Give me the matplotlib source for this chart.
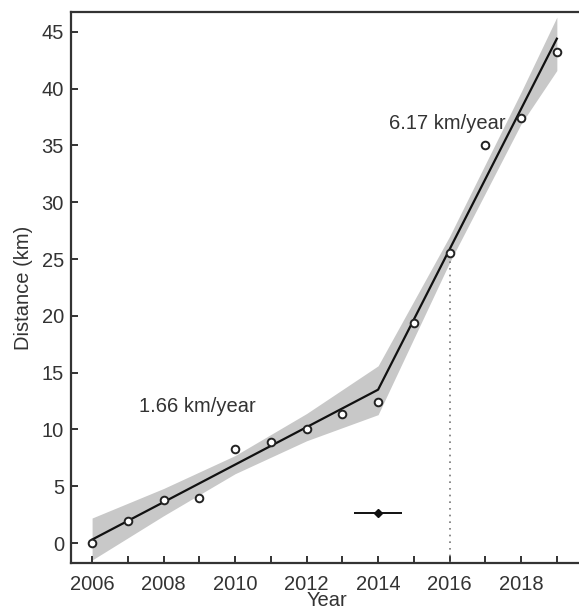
import matplotlib
matplotlib.use("Agg")
import matplotlib.pyplot as plt

plt.rcParams['font.family'] = ['Liberation Sans', 'DejaVu Sans']

years = [2006, 2007, 2008, 2009, 2010, 2011, 2012, 2013, 2014, 2015, 2016, 2017, 2018, 2019]
distance = [0.0, 1.9, 3.8, 4.0, 8.3, 8.9, 10.0, 11.4, 12.4, 19.4, 25.5, 35.0, 37.4, 43.2]

fit_x = [2006, 2014, 2019]
fit_y = [0.3, 13.5, 44.4]

band_x = [2006, 2008, 2010, 2012, 2014, 2016, 2018, 2019]
band_lo = [-1.5, 2.4, 6.1, 9.0, 11.3, 24.7, 36.9, 41.6]
band_hi = [2.2, 4.8, 7.7, 11.4, 15.6, 27.0, 39.7, 46.3]

event_x = 2014
event_y = 2.6
event_xerr = 0.68

rate_labels = ["1.66 km/year", "6.17 km/year"]
rate_pos = [(2007.3, 12.0), (2014.3, 36.9)]

vline_x = 2016
vline_top = 25.5

fig = plt.figure(figsize=(5.79, 6.08), dpi=100)
ax = fig.add_axes([71/579, 45/608, (592.6-71)/579, (563-12)/608])
ax.set_xlim(2005.41, 2020.0)
ax.set_ylim(-1.76, 46.75)

tc = '#333333'
fs = 14.5
ax.fill_between(band_x, band_lo, band_hi, color='#c8c8c8', lw=0, zorder=1)
ax.plot(fit_x, fit_y, color='#111111', lw=1.6, zorder=3)
ax.plot(years, distance, 'o', mfc='white', mec='#222222', mew=1.4, ms=5.5, zorder=4)
ax.plot([vline_x, vline_x], [ax.get_ylim()[0], vline_top], ls=(0, (1, 3)), color='#777777', lw=1.2, zorder=2)
ax.errorbar([event_x], [event_y], xerr=[event_xerr], fmt='D', color='#111111', ms=4, lw=1.4, capsize=0, zorder=5)

for t, (x, y) in zip(rate_labels, rate_pos):
    ax.text(x, y, t, fontsize=fs, color=tc, ha='left', va='center')

ax.set_xticks(range(2006, 2020))
ax.set_xticklabels([str(y) if y % 2 == 0 else '' for y in range(2006, 2020)])
ax.set_yticks(range(0, 50, 5))
ax.tick_params(direction='in', length=5, width=1.4, colors='#333333', labelsize=fs, labelcolor=tc)
ax.tick_params(axis='x', pad=9)
ax.tick_params(axis='y', pad=5)
for s in ['left', 'bottom', 'top']:
    ax.spines[s].set_linewidth(1.6)
    ax.spines[s].set_color('#333333')
ax.spines['right'].set_visible(False)

ax.set_xlabel('Year', fontsize=fs, color=tc)
ax.xaxis.set_label_coords((327-71)/521.6, -28/551)
ax.set_ylabel('Distance (km)', fontsize=fs, color=tc, labelpad=6)

fig.savefig('out.png', dpi=100)
